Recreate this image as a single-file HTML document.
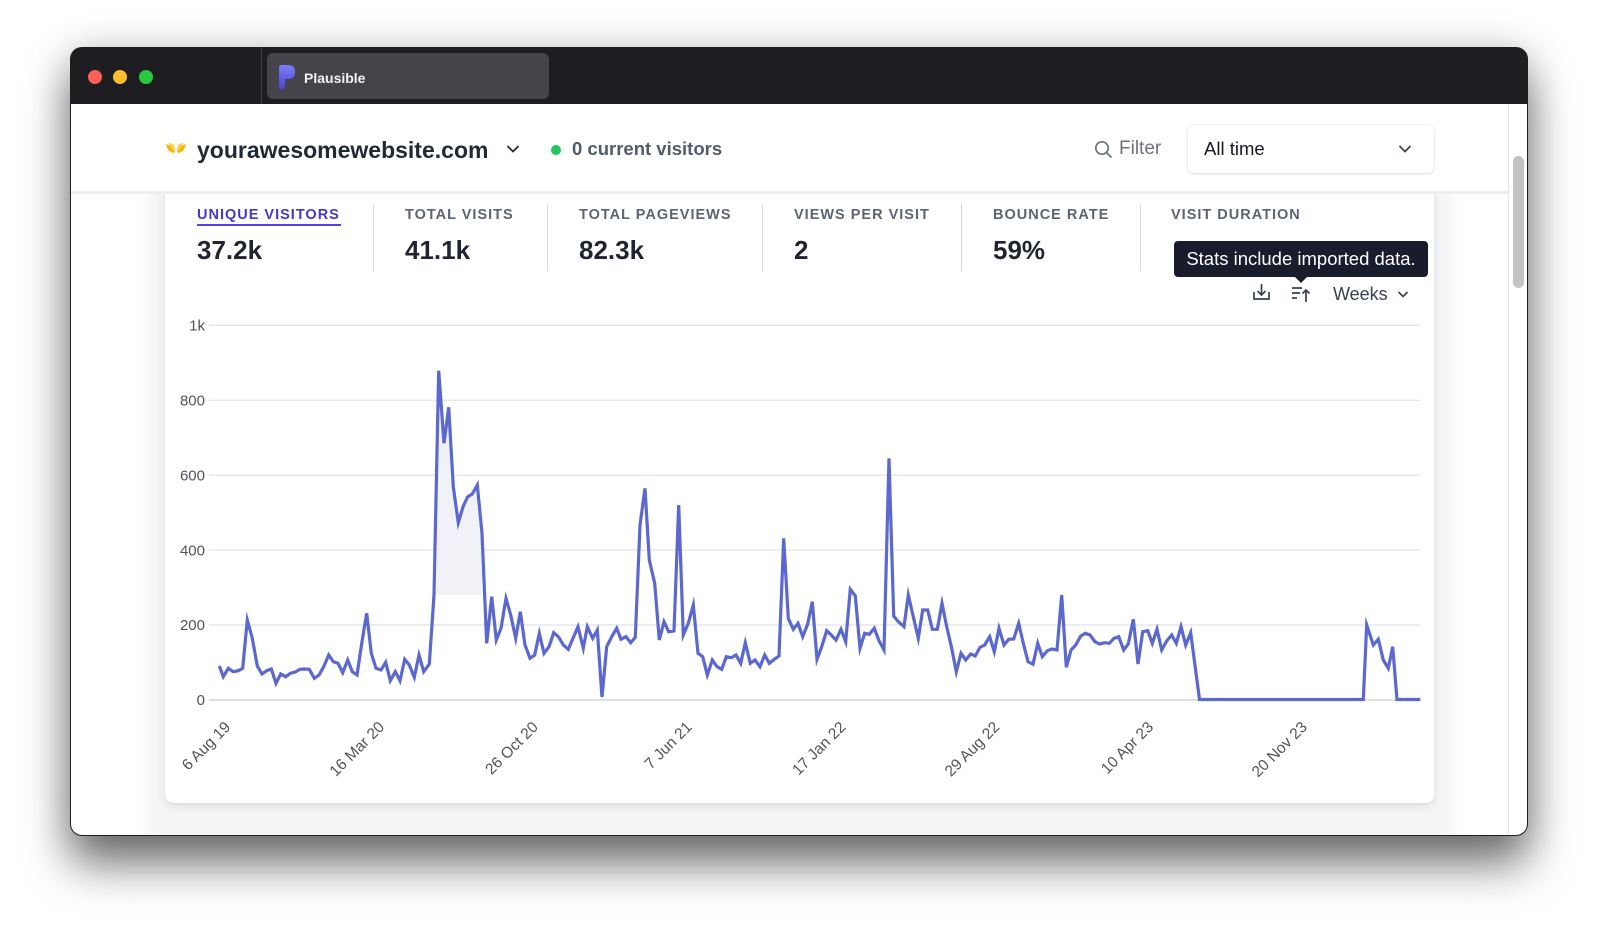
<!DOCTYPE html>
<html><head><meta charset="utf-8">
<style>
*{margin:0;padding:0;box-sizing:border-box}
html,body{width:1600px;height:932px;overflow:hidden;background:#fff;font-family:"Liberation Sans",Arial,sans-serif}
.abs{position:absolute}
#win{left:70px;top:47px;width:1458px;height:789px;border-radius:12px;background:#1e1d22;box-shadow:0 28px 45px rgba(0,0,0,0.55),0 0 40px rgba(0,0,0,0.16)}
#content{left:71px;top:104px;width:1456px;height:731px;background:#fff;border-radius:0 0 11px 11px;overflow:hidden}
.lbl{font-size:14.5px;font-weight:bold;letter-spacing:1px;color:#5b6474;line-height:20px;top:205px;white-space:nowrap}
.val{font-size:26px;font-weight:bold;color:#1f2430;line-height:32px;top:234px;white-space:nowrap}
.div{top:204px;width:1px;height:67px;background:#d6d9df}
</style></head>
<body>
<div id="win" class="abs"></div>
<!-- titlebar items -->
<div class="abs" style="left:88px;top:69.5px;width:14px;height:14px;border-radius:50%;background:#fe5f57"></div>
<div class="abs" style="left:113.4px;top:69.5px;width:14px;height:14px;border-radius:50%;background:#febc2e"></div>
<div class="abs" style="left:139px;top:69.5px;width:14px;height:14px;border-radius:50%;background:#28c840"></div>
<div class="abs" style="left:260.5px;top:47px;width:1.5px;height:57px;background:#3a3940"></div>
<div class="abs" style="left:267px;top:53px;width:282px;height:46px;border-radius:6px;background:#45444b"></div>
<svg class="abs" style="left:276px;top:64px" width="22" height="26" viewBox="0 0 22 26">
<defs><linearGradient id="pg" x1="0" y1="0" x2="0" y2="1"><stop offset="0" stop-color="#7b7ff5"/><stop offset="1" stop-color="#4a43d8"/></linearGradient></defs>
<path d="M3 3 Q3 1 6 1 L12 1 Q19 1 19 8 Q19 15 12 15 L9 15 L9 22 Q9 25 6 25 L3 25 Z" fill="url(#pg)"/>
</svg>
<div class="abs" style="left:304px;top:68px;font-size:14px;font-weight:bold;color:#f2f2f4;line-height:20px">Plausible</div>

<div id="content" class="abs">
  <div class="abs" style="left:76px;top:76px;width:1306px;height:680px;background:#f4f5f7;border-radius:26px;filter:blur(5px)"></div>
</div>

<!-- card -->
<div class="abs" style="left:165px;top:170px;width:1269px;height:633px;background:#fff;border-radius:8px;box-shadow:0 4px 10px rgba(0,0,0,0.08),0 1px 2px rgba(0,0,0,0.06)"></div>

<!-- header -->
<div class="abs" style="left:71px;top:104px;width:1437px;height:90px;background:#fff;border-bottom:3px solid #eceef1"></div>
<svg class="abs" style="left:164px;top:140px" width="24" height="18" viewBox="0 0 24 18">
<path d="M2 4 Q3 11 9 13 L11 12 Q9 6 2 4Z" fill="#f5b50e"/>
<path d="M22 4 Q21 11 15 13 L13 12 Q15 6 22 4Z" fill="#f5b50e"/>
<path d="M5 3 Q7 9 11 11 L10 5 Q8 3 5 3Z" fill="#fcd34d"/>
<path d="M19 3 Q17 9 13 11 L14 5 Q16 3 19 3Z" fill="#fcd34d"/>
</svg>
<div class="abs" style="left:197px;top:135px;font-size:23px;font-weight:bold;color:#1f2937;line-height:30px;white-space:nowrap">yourawesomewebsite.com</div>
<svg class="abs" style="left:506px;top:144px" width="14" height="10" viewBox="0 0 14 10"><polyline points="1.5,2 7,7.5 12.5,2" fill="none" stroke="#1f2937" stroke-width="1.8"/></svg>
<div class="abs" style="left:551px;top:145px;width:10px;height:10px;border-radius:50%;background:#22c55e"></div>
<div class="abs" style="left:572px;top:137px;font-size:18.5px;font-weight:bold;color:#525b6b;line-height:24px;white-space:nowrap">0 current visitors</div>
<svg class="abs" style="left:1094px;top:140px" width="20" height="20" viewBox="0 0 20 20"><circle cx="8" cy="8" r="6.2" fill="none" stroke="#6b7280" stroke-width="1.7"/><line x1="12.5" y1="12.5" x2="17.5" y2="17.5" stroke="#6b7280" stroke-width="1.8"/></svg>
<div class="abs" style="left:1119px;top:137px;font-size:19px;color:#6b7280;line-height:24px">Filter</div>
<div class="abs" style="left:1188px;top:124.5px;width:246px;height:48px;border-radius:6px;background:#fff;box-shadow:0 1px 3px rgba(0,0,0,0.12),0 0 0 1px rgba(0,0,0,0.03)"></div>
<div class="abs" style="left:1204px;top:137px;font-size:18.5px;color:#111827;line-height:24px">All time</div>
<svg class="abs" style="left:1398px;top:144px" width="14" height="10" viewBox="0 0 14 10"><polyline points="1.5,2 7,7.5 12.5,2" fill="none" stroke="#374151" stroke-width="1.7"/></svg>

<!-- scrollbar -->
<div class="abs" style="left:1508px;top:104px;width:1px;height:731px;background:#e6e7ea"></div>
<div class="abs" style="left:1513px;top:156px;width:11px;height:132px;border-radius:6px;background:#c3c3c5"></div>

<!-- metrics -->
<div class="abs lbl" style="left:197px;color:#4338ca">UNIQUE VISITORS</div>
<div class="abs" style="left:197px;top:224px;width:144px;height:2px;background:#4f46e5"></div>
<div class="abs val" style="left:197px">37.2k</div>
<div class="abs div" style="left:373px"></div>
<div class="abs lbl" style="left:405px">TOTAL VISITS</div>
<div class="abs val" style="left:405px">41.1k</div>
<div class="abs div" style="left:547px"></div>
<div class="abs lbl" style="left:579px">TOTAL PAGEVIEWS</div>
<div class="abs val" style="left:579px">82.3k</div>
<div class="abs div" style="left:762px"></div>
<div class="abs lbl" style="left:794px">VIEWS PER VISIT</div>
<div class="abs val" style="left:794px">2</div>
<div class="abs div" style="left:961px"></div>
<div class="abs lbl" style="left:993px">BOUNCE RATE</div>
<div class="abs val" style="left:993px">59%</div>
<div class="abs div" style="left:1140px"></div>
<div class="abs lbl" style="left:1171px">VISIT DURATION</div>

<!-- tooltip -->
<div class="abs" style="left:1174px;top:241px;width:254px;height:35.5px;border-radius:4px;background:#191c2c"></div>
<svg class="abs" style="left:1293px;top:275px" width="16" height="9" viewBox="0 0 16 9"><polygon points="0,0 16,0 8,8" fill="#191c2c"/></svg>
<div class="abs" style="left:1174px;top:246px;width:254px;text-align:center;font-size:18.5px;color:#fff;line-height:25px;white-space:nowrap">Stats include imported data.</div>

<!-- icons row -->
<svg class="abs" style="left:1250px;top:282px" width="24" height="22" viewBox="0 0 24 22">
<path d="M4 10 V17 H19 V10" fill="none" stroke="#374151" stroke-width="1.7"/>
<path d="M11.5 2 V13 M7.5 9 L11.5 13 L15.5 9" fill="none" stroke="#374151" stroke-width="1.7"/>
</svg>
<svg class="abs" style="left:1290px;top:283px" width="24" height="22" viewBox="0 0 24 22">
<path d="M2 5 H12 M2 10 H10 M2 15 H7" stroke="#374151" stroke-width="1.7"/>
<path d="M16 19 V7 M12.5 10.5 L16 7 L19.5 10.5" fill="none" stroke="#374151" stroke-width="1.7"/>
</svg>
<div class="abs" style="left:1333px;top:282px;font-size:18px;color:#374151;line-height:24px">Weeks</div>
<svg class="abs" style="left:1397px;top:290px" width="12" height="9" viewBox="0 0 12 9"><polyline points="1.5,2 6,6.5 10.5,2" fill="none" stroke="#374151" stroke-width="1.6"/></svg>

<!-- chart -->
<svg class="abs" style="left:0;top:0" width="1600" height="932" viewBox="0 0 1600 932">
<g stroke="#e5e7eb" stroke-width="1.4">
<line x1="209" y1="325.3" x2="1420" y2="325.3"/>
<line x1="209" y1="400.3" x2="1420" y2="400.3"/>
<line x1="209" y1="475.2" x2="1420" y2="475.2"/>
<line x1="209" y1="550.1" x2="1420" y2="550.1"/>
<line x1="209" y1="625" x2="1420" y2="625"/>
</g>
<line x1="209" y1="699.9" x2="1420" y2="699.9" stroke="#d6d8dc" stroke-width="1.6"/>
<g font-family="Liberation Sans, Arial, sans-serif" font-size="15" fill="#52525b" text-anchor="end">
<text x="205" y="330.5">1k</text>
<text x="205" y="405.5">800</text>
<text x="205" y="480.4">600</text>
<text x="205" y="555.3">400</text>
<text x="205" y="630.2">200</text>
<text x="205" y="705.1">0</text>
</g>
<g font-family="Liberation Sans, Arial, sans-serif" font-size="15.5" fill="#52525b" text-anchor="end" dominant-baseline="middle">
<text transform="translate(228.5,725) rotate(-45)">6 Aug 19</text>
<text transform="translate(382.3,725) rotate(-45)">16 Mar 20</text>
<text transform="translate(536.1,725) rotate(-45)">26 Oct 20</text>
<text transform="translate(689.9,725) rotate(-45)">7 Jun 21</text>
<text transform="translate(843.7,725) rotate(-45)">17 Jan 22</text>
<text transform="translate(997.5,725) rotate(-45)">29 Aug 22</text>
<text transform="translate(1151.3,725) rotate(-45)">10 Apr 23</text>
<text transform="translate(1305.1,725) rotate(-45)">20 Nov 23</text>
</g>
<polygon points="436.5,595 438.7,370.7 444,443.3 448.7,407.3 453.3,486.7 458.3,522.7 463,506.7 467.7,496.7 472.3,494 477.3,485 480.8,520 481.5,595" fill="#f1f2f7"/>
<polyline fill="none" stroke="#5a68cf" stroke-width="3.2" stroke-linejoin="miter" stroke-miterlimit="6" points="219.3,666 223.3,676.7 228.3,668.3 233.3,671.7 238.3,670.7 242.7,668.3 247.3,620 252.3,638.3 257.3,666 262,674 266.7,670.7 271.3,669 276,683.3 280.7,674 285.7,676.7 290.3,673.3 295.3,672 300,669.3 304.7,669 309.3,669.3 314.3,678.3 319,675 323.7,666.7 328.7,655 333.3,661.7 338,663.3 342.7,672.7 347.7,660 352.3,671.7 357,675 362,641.7 366.7,613.3 371.3,653.3 376,668.3 381,670 385.7,662.3 390.3,680.7 395.3,671.7 400,680.7 404.7,659.3 409.3,665 414.3,677.3 419,655 423.7,671.7 429.3,664 434,595 438.7,370.7 444,443.3 448.7,407.3 453.3,486.7 458.3,522.7 463,506.7 467.7,496.7 472.3,494 477.3,485 482,533.3 486.7,643.3 491.7,596.7 496.3,640 501,628.3 506,598.3 510.7,615 515.7,638.3 520.3,611.7 525,645 530,658.3 534.7,655 539.3,633.3 544,653.3 549,646.7 553.7,632.7 558.3,636.7 563.3,645 568.3,649.3 573,638.3 578,626.7 583.3,648.3 587.3,626.7 592.7,638.3 597.3,630 602,697 606.7,646.7 611.7,636.7 616.7,628.3 621,639.3 626,636.7 630.7,642.7 635.3,637.3 640,525 645,488.3 649.3,560 654.7,583.3 659.3,640 664,621.7 668.7,631.7 674,631 678.7,505 683.3,635 688.3,623.3 693.3,605 698,653.3 702.7,656.7 707.3,675 712.3,660 717,666.7 721.7,669.3 726.3,656.7 731.3,657.7 736,655 740.7,663.3 745.3,642.7 750.3,663.3 755,660 760,666.7 764.7,655 769.3,663.3 774.3,659.3 779,656 783.7,538.3 788.3,618.3 793.3,629.3 798,623.3 802.7,636.7 807.7,624 812.3,601.7 817,659.3 821.7,646.7 826.7,630.7 831.3,635 836,640 841,629.3 845.7,641.7 850.3,589.3 855.3,596 860,648.3 864.7,633.3 869.3,634.3 874.3,628.3 879,640.7 884,650 889,458.3 893.7,616 898.3,621.7 904,626.7 908.3,595 913.3,616.7 918.3,638.3 922.7,610 927.7,610 932.3,629.3 937.3,629.3 942,603.3 946.7,626.7 951.7,648.3 956.3,671.7 961,653.3 965.7,660 970.7,654 975.3,656 980,647.3 984.7,645 989.7,636.7 994.3,651.7 999,628.3 1004,645 1008.7,639.3 1013.7,639 1018.7,623.3 1023.3,643.3 1028,661.7 1033,664.3 1037.7,643.3 1042.3,656.7 1047.3,650.7 1052,649 1057,650 1061.7,595 1066.3,667.3 1071,650 1075.7,645 1080.7,636 1085.3,633.3 1090,635 1095,641.7 1099.7,644 1104.3,642.7 1109.3,643.3 1114,638.3 1118.7,636.7 1123.7,650 1128.3,644 1133.3,619.3 1138,664 1142.7,631.7 1147.7,630.7 1152.3,643.3 1157,629.3 1161.7,650 1166.7,641 1171.7,635 1176.3,643.3 1181,626.7 1185.7,645 1190.7,632.7 1199.5,699.5 1363.3,699.5 1366.7,625 1373.3,645 1378.3,639.3 1383.3,660 1388.3,668.3 1392.7,646.7 1397,699.5 1420.4,699.5"/>
</svg>
</body></html>
